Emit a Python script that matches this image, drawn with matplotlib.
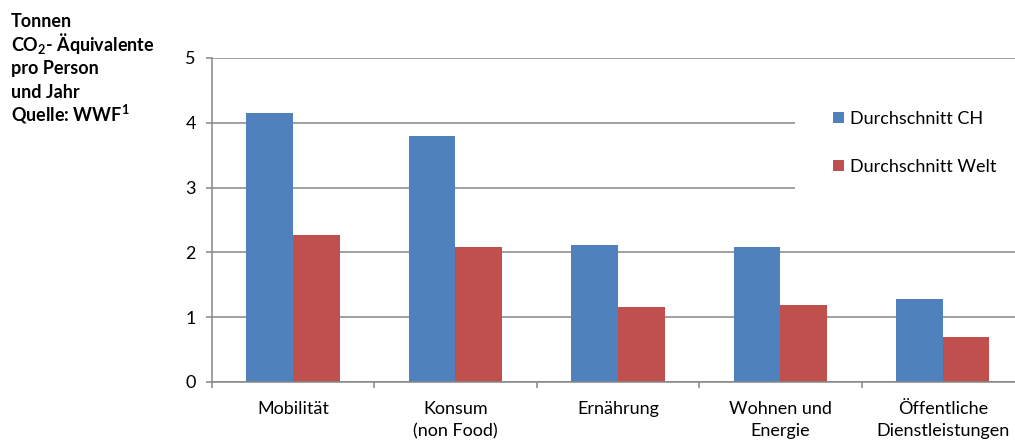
import matplotlib
matplotlib.use("Agg")
import matplotlib.pyplot as plt
import numpy as np
from matplotlib.patches import Rectangle

# CO2 footprint per person and year, by area of consumption
categories = ["Mobilität", "Konsum\n(non Food)", "Ernährung", "Wohnen und\nEnergie",
              "Öffentliche\nDienstleistungen"]
schnitt_ch = [4.15, 3.80, 2.11, 2.09, 1.28]
schnitt_welt = [2.27, 2.08, 1.16, 1.19, 0.69]
series_names = ["Durchschnitt CH", "Durchschnitt Welt"]
yticks = [0, 1, 2, 3, 4, 5]
title_lines = ["Tonnen", r"CO$_\mathbf{2}$- Äquivalente", "pro Person", "und Jahr",
               r"Quelle: WWF$^\mathbf{1}$"]

plt.rcParams['font.family'] = ['Lato', 'DejaVu Sans']
plt.rcParams['font.size'] = 13
plt.rcParams['mathtext.fontset'] = 'custom'
plt.rcParams['mathtext.rm'] = 'Lato'
plt.rcParams['mathtext.bf'] = 'Lato:bold'

blue = "#4F81BD"
red = "#C0504D"
grey = "#868686"

fig = plt.figure(figsize=(10.15, 4.41), dpi=100)
ax = fig.add_axes([0.2086, 0.1338, 0.8003, 0.7347])

x = np.arange(len(categories))
w = 0.287
ax.bar(x - w / 2, schnitt_ch, w, color=blue, label=series_names[0], zorder=2)
ax.bar(x + w / 2, schnitt_welt, w, color=red, label=series_names[1], zorder=2)

ax.set_xlim(-0.5, len(categories) - 0.5)
ax.set_ylim(0, 5)
ax.set_yticks(yticks)
ax.yaxis.grid(True, color=grey, linewidth=1.1)
ax.set_axisbelow(True)

ax.set_xticks(x)
ax.set_xticklabels(categories, linespacing=1.45)
ax.set_xticks(np.arange(len(categories) + 1) - 0.5, minor=True)
ax.tick_params(axis='x', which='major', length=0, pad=14)
ax.tick_params(axis='x', which='minor', length=4, color=grey, width=1.1)
ax.tick_params(axis='y', length=4.5, color=grey, width=1.1, pad=7)

for side in ['top', 'right']:
    ax.spines[side].set_visible(False)
for side in ['left', 'bottom']:
    ax.spines[side].set_color(grey)
    ax.spines[side].set_linewidth(1.1)

# white area behind the legend hides the grid lines there
ax.add_patch(Rectangle((0.718, 0.45), 0.3, 0.4, transform=ax.transAxes,
                       facecolor='white', edgecolor='none', zorder=1))

ax.legend(loc='upper left', bbox_to_anchor=(833 / 1015, 1 - 111 / 441),
          bbox_transform=fig.transFigure, frameon=False, borderpad=0,
          borderaxespad=0, handlelength=0.6, handleheight=0.6,
          handletextpad=0.35, labelspacing=1.75)

# axis title in the upper left corner, one line at a time
for i, line in enumerate(title_lines):
    fig.text(11 / 1015, 1 - (27 + 23.5 * i) / 441, line, ha='left', va='baseline',
             fontweight='bold')

fig.savefig("out.png", dpi=100)
